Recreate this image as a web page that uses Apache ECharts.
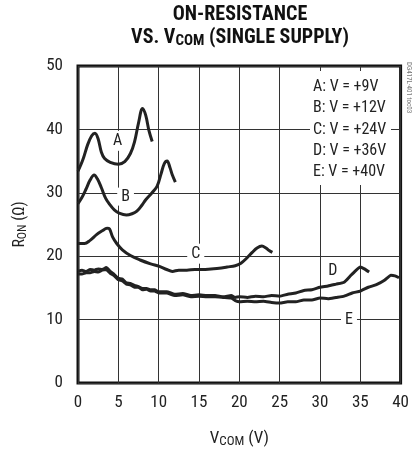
<!DOCTYPE html>
<html><head><meta charset="utf-8">
<script src="https://cdn.jsdelivr.net/npm/echarts@6/dist/echarts.min.js"></script>
<style>html,body{margin:0;padding:0;background:#fff}#c{width:412px;height:453px}</style>
</head><body><div id="c"></div>
<script>
var FONT = '"Liberation Sans Narrow","Arial Narrow","Roboto Condensed",Roboto,sans-serif';
var xTicks = [0,5,10,15,20,25,30,35,40];
var yTicks = [0,10,20,30,40,50];
var legendLines = ['A: V = +9V','B: V = +12V','C: V = +24V','D: V = +36V','E: V = +40V'];
var curveA = [[0,33.4],[0.6,35.2],[1.2,37.6],[1.7,39.0],[2.1,39.4],[2.5,38.5],[2.9,36.4],[3.3,35.4],[4,34.8],[5,34.5],[5.8,34.9],[6.5,36.2],[7,38.0],[7.5,41.0],[8,43.3],[8.4,42.2],[8.8,39.8],[9.2,38.1]];
var curveB = [[0,28.3],[0.5,29.3],[1,30.6],[1.5,32.0],[2,32.8],[2.4,32.2],[2.9,30.8],[3.4,29.2],[3.9,28.2],[4.5,27.3],[5.1,26.8],[6,26.5],[6.7,26.7],[7.3,27.1],[7.9,28.0],[8.4,28.9],[9.1,29.9],[9.8,31.0],[10.3,33.0],[10.7,34.6],[11.05,35.0],[11.4,34.0],[11.7,32.8],[12.07,31.7]];
var curveC = [[0,22.0],[0.8,22.0],[1.5,22.5],[2.3,23.4],[3.0,24.0],[3.6,24.4],[3.9,24.3],[4.3,23.0],[4.8,22.0],[5.5,21.0],[6.5,20.1],[7.7,19.4],[9,18.8],[10.1,18.4],[11,17.9],[11.7,17.6],[12.5,17.8],[13.5,17.8],[14.5,17.9],[15.5,17.9],[16.5,18.0],[17.5,18.1],[18.5,18.3],[19.5,18.5],[20.2,18.9],[21.0,19.8],[21.6,20.6],[22.2,21.3],[22.8,21.6],[23.3,21.3],[23.7,20.9],[24.1,20.6]];
var curveD = [[0,17.6],[0.5,17.8],[1,17.6],[1.5,17.9],[2,17.8],[2.5,18.0],[3,17.9],[3.5,18.2],[4,17.6],[4.5,17.1],[5,16.5],[5.5,16.4],[6,15.8],[6.5,15.7],[7,15.4],[7.5,15.2],[8,14.9],[8.5,14.9],[9,14.7],[9.5,14.7],[10,14.4],[11,14.4],[12,14.0],[13,14.1],[14,13.8],[15,13.9],[16,13.8],[17,13.8],[18,13.6],[19,13.8],[19.5,13.5],[20,13.6],[21,13.5],[22,13.7],[23,13.6],[24,13.8],[25,13.7],[26,14.0],[27,14.2],[28,14.6],[29,14.7],[30,15.1],[31,15.3],[32,15.6],[33,15.9],[33.7,16.8],[34.4,17.7],[35,18.3],[35.5,18.0],[36.1,17.5]];
var curveE = [[0,17.2],[0.5,17.2],[1,17.4],[1.5,17.4],[2,17.6],[2.5,17.5],[3,17.8],[3.5,17.9],[4,17.3],[4.5,16.9],[5,16.3],[5.5,16.1],[6,15.6],[6.5,15.5],[7,15.1],[7.5,15.1],[8,14.7],[8.5,14.8],[9,14.5],[9.5,14.5],[10,14.2],[11,14.2],[12,13.8],[13,13.9],[14,13.6],[15,13.7],[16,13.6],[17,13.6],[18,13.5],[19,13.4],[19.5,13.0],[20,12.8],[21,12.9],[22,12.8],[23,12.9],[24,12.7],[25,12.6],[26,12.8],[27,12.8],[28,13.1],[29,13.1],[30,13.4],[31,13.3],[32,13.5],[33,13.7],[34,14.2],[35,14.5],[36,15.1],[37,15.5],[38,16.2],[38.8,17.0],[39.3,16.9],[39.8,16.6]];

var chart = echarts.init(document.getElementById('c'), null, {renderer:'canvas'});
function line(name, data, lbl, coord, pad, smooth){
  return {name:name, type:'line', data:data, smooth:smooth, symbol:'none',
    lineStyle:{color:'#222', width:3}, z:3,
    markPoint:{symbol:'circle', symbolSize:0, silent:true, data:[{coord:coord, value:lbl}],
      label:{show:true, position:'inside', formatter:lbl, color:'#222', fontFamily:FONT, fontSize:16,
        backgroundColor:'#fff', padding:pad}}};
}
var legendGraphics = [{type:'rect', shape:{x:310, y:71, width:81, height:114}, style:{fill:'#fff'}, z:5}];
legendLines.forEach(function(t,i){
  legendGraphics.push({type:'text', x:313, y:87 + i*21.3, z:6,
    style:{text:t, fill:'#222', font:'16px ' + FONT, verticalAlign:'middle', align:'left'}});
});
legendGraphics.push({type:'text', x:240, y:3, z:6, style:{
  text:'{a|ON-RESISTANCE}\n{b|VS. V}{c|COM}{b| (SINGLE SUPPLY)}', align:'center', verticalAlign:'top',
  rich:{a:{fontFamily:FONT, fontWeight:'bold', fontSize:20, fill:'#111', lineHeight:23},
        b:{fontFamily:FONT, fontWeight:'bold', fontSize:20, fill:'#111', lineHeight:23},
        c:{fontFamily:FONT, fontWeight:'bold', fontSize:15, fill:'#111', lineHeight:23, verticalAlign:'bottom', padding:[5,0,0,0]}}}});
legendGraphics.push({type:'text', x:409, y:62, rotation:-Math.PI/2, z:6,
  style:{text:'DG417L-401 toc03', fill:'#777', font:'7px ' + FONT, align:'left', verticalAlign:'middle'}});

chart.setOption({
  animation:false,
  grid:{left:78, top:66, width:327, height:325, show:true, borderColor:'#111', borderWidth:3, backgroundColor:'transparent'},
  xAxis:{type:'value', min:0, max:40, interval:5,
    axisLine:{show:false}, axisTick:{show:false},
    splitLine:{show:true, lineStyle:{color:'#333', width:1}},
    axisLabel:{fontFamily:FONT, fontSize:17, color:'#222', margin:11},
    name:'{v|V}{s|COM}{v| (V)}', nameLocation:'middle', nameGap:46,
    nameTextStyle:{rich:{v:{fontFamily:FONT, fontSize:17, color:'#222'}, s:{fontFamily:FONT, fontSize:13, color:'#222', padding:[6,0,0,0]}}}},
  yAxis:{type:'value', min:0, max:50, interval:10,
    axisLine:{show:false}, axisTick:{show:false},
    splitLine:{show:true, lineStyle:{color:'#333', width:1}},
    axisLabel:{fontFamily:FONT, fontSize:17, color:'#222', margin:15},
    name:'{v|R}{s|ON}{v| (Ω)}', nameLocation:'middle', nameGap:49, nameRotate:90,
    nameTextStyle:{rich:{v:{fontFamily:FONT, fontSize:16, color:'#222'}, s:{fontFamily:FONT, fontSize:12, color:'#222', padding:[6,0,0,0]}}}},
  graphic:legendGraphics,
  series:[
    line('A', curveA, 'A', [4.9,38.2], [2,1], 0.35),
    line('B', curveB, 'B', [5.9,29.4], [1,4], 0.35),
    line('C', curveC, 'C', [14.6,20.4], [2,4], 0.35),
    line('D', curveD, 'D', [31.6,17.6], [1,1], 0.15),
    line('E', curveE, 'E', [33.6,10.0], [1,4], 0.15)
  ]
});
</script></body></html>
